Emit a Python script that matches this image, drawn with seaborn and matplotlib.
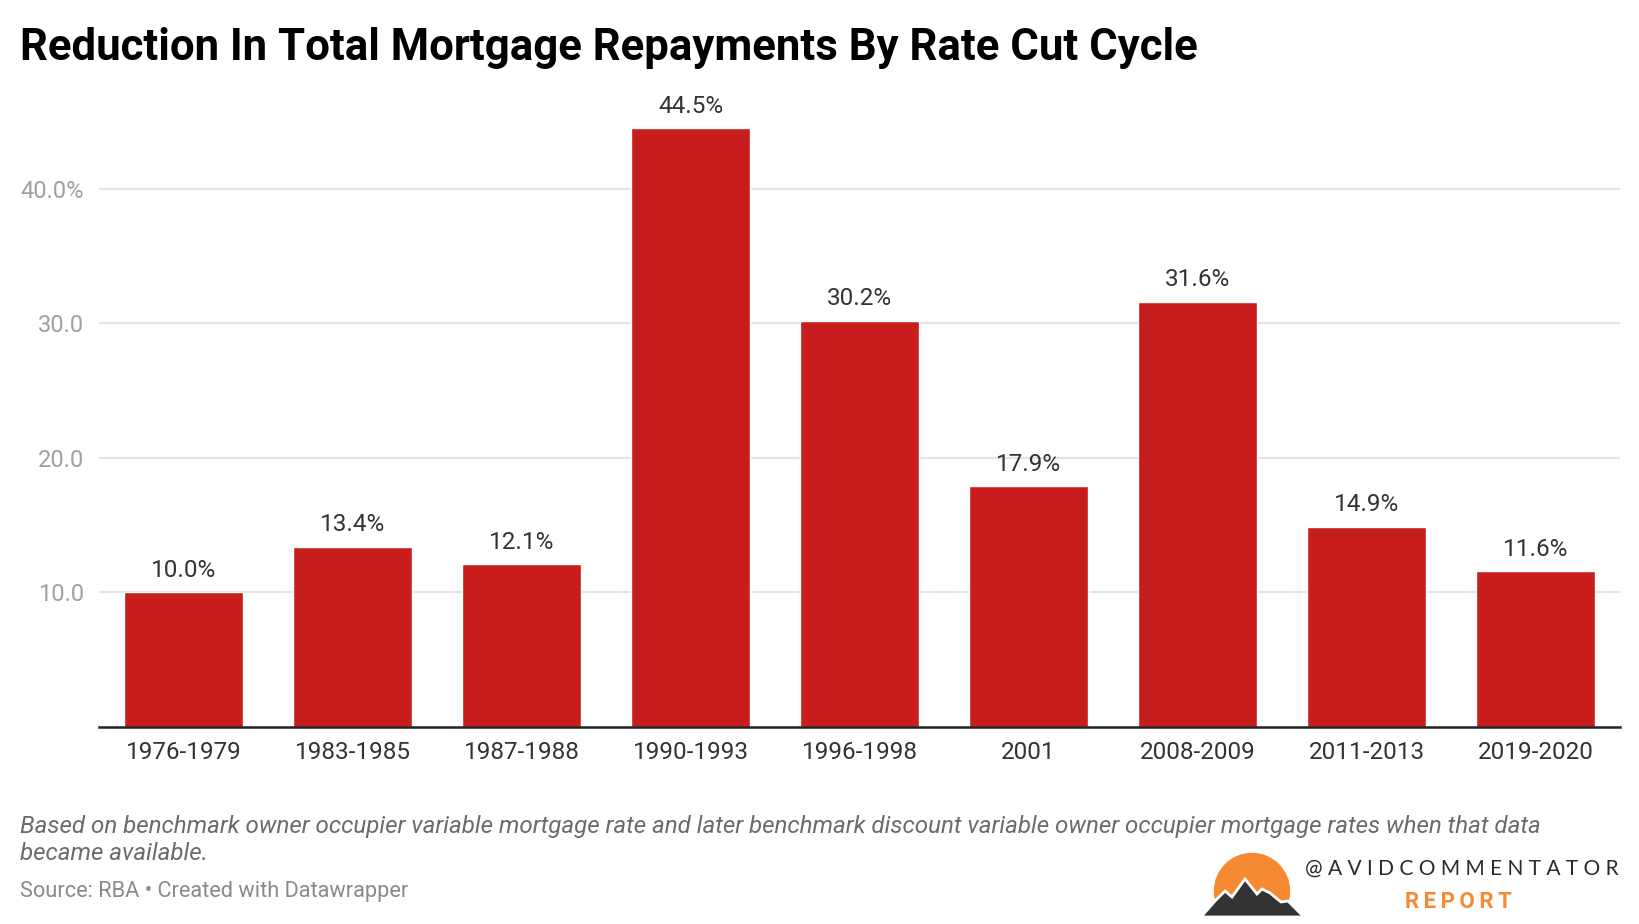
import numpy as np
import pandas as pd
import matplotlib.pyplot as plt
import matplotlib.patches as mpatches
import seaborn as sns

# === DATA ===
cycles = ['1976-1979', '1983-1985', '1987-1988', '1990-1993', '1996-1998',
          '2001', '2008-2009', '2011-2013', '2019-2020']
reduction_pct = [10.0, 13.4, 12.1, 44.5, 30.2, 17.9, 31.6, 14.9, 11.6]
y_ticks = [10, 20, 30, 40]
y_tick_labels = ['10.0', '20.0', '30.0', '40.0%']

title = 'Reduction In Total Mortgage Repayments By Rate Cut Cycle'
note_lines = ['Based on benchmark owner occupier variable mortgage rate and later benchmark discount '
              'variable owner occupier mortgage rates when that data',
              'became available.']
source = 'Source: RBA \u2022 Created with Datawrapper'

BAR_RED = '#c71e1d'
ORANGE = '#f58a33'

sns.set_theme(style='white')
plt.rcParams['font.family'] = ['Roboto', 'DejaVu Sans']

W, H = 1640, 924
fig = plt.figure(figsize=(W / 100, H / 100), dpi=100)
fig.patch.set_facecolor('white')

# --- main bar chart ---
ax = fig.add_axes([99 / W, 197 / H, (1620 - 99) / W, 627 / H])
df = pd.DataFrame({'cycle': cycles, 'pct': reduction_pct})
sns.barplot(data=df, x='cycle', y='pct', color=BAR_RED, saturation=1,
            width=0.7, ax=ax, zorder=3)
ax.set_xlim(-0.5, len(cycles) - 0.5)
ax.set_ylim(0, 46.6)

for v in y_ticks:
    ax.axhline(v, color='#e4e4e4', lw=1.6, zorder=1)

ax.set_yticks(y_ticks)
ax.set_yticklabels(y_tick_labels)
ax.tick_params(axis='y', length=0, pad=11, labelsize=17, labelcolor='#a0a0a0')
ax.tick_params(axis='x', length=0, pad=10, labelsize=17.5, labelcolor='#333333')
ax.set_xlabel('')
ax.set_ylabel('')

for side in ['top', 'right', 'left']:
    ax.spines[side].set_visible(False)
ax.spines['bottom'].set_color('#222222')
ax.spines['bottom'].set_linewidth(1.8)
ax.spines['bottom'].set_zorder(4)

ax.bar_label(ax.containers[0], labels=[f'{v:.1f}%' for v in reduction_pct],
             padding=7.5, fontsize=17.5, color='#333333')

# --- title / notes ---
fig.text(20 / W, 1 - 60 / H, title, fontsize=31.5, fontweight='bold',
         color='black', va='baseline', ha='left')
for i, line in enumerate(note_lines):
    fig.text(20 / W, 1 - (833 + 27 * i) / H, line, fontsize=17.4, style='italic',
             color='#6b6b6b', va='baseline', ha='left')
fig.text(20 / W, 1 - 897 / H, source, fontsize=15.7, color='#8a8a8a',
         va='baseline', ha='left')

# --- logo (pixel coordinates, y down) ---
lx0, lx1, ly0, ly1 = 1195, 1640, 844, 924
lax = fig.add_axes([lx0 / W, 0, (lx1 - lx0) / W, (ly1 - ly0) / H])
lax.set_xlim(lx0, lx1)
lax.set_ylim(ly1, ly0)
lax.axis('off')
lax.add_patch(mpatches.Circle((1252, 891), 37.5, color=ORANGE, zorder=1))
lax.add_patch(mpatches.Rectangle((1200, 906), 110, 20, color='white', zorder=2))
mountain = [(1201, 917), (1215, 901), (1225, 891), (1232, 897), (1245, 879),
            (1257, 894), (1262, 889), (1270, 893), (1281, 902), (1288, 901),
            (1304, 917)]
lax.add_patch(mpatches.Polygon(mountain, closed=True, facecolor='#333333',
                               edgecolor='white', lw=2, zorder=3))
lax.text(1305, 875, '@ A V I D C O M M E N T A T O R', fontsize=15,
         family=['Lato', 'DejaVu Sans'], color='#2b2b2b', va='baseline', ha='left')
lax.text(1458, 908, 'R\u2009E\u2009P\u2009O\u2009R\u2009T', fontsize=16, fontweight='bold',
         family=['Roboto', 'DejaVu Sans'], color=ORANGE, va='baseline', ha='center')

fig.savefig('out.png', dpi=100)
